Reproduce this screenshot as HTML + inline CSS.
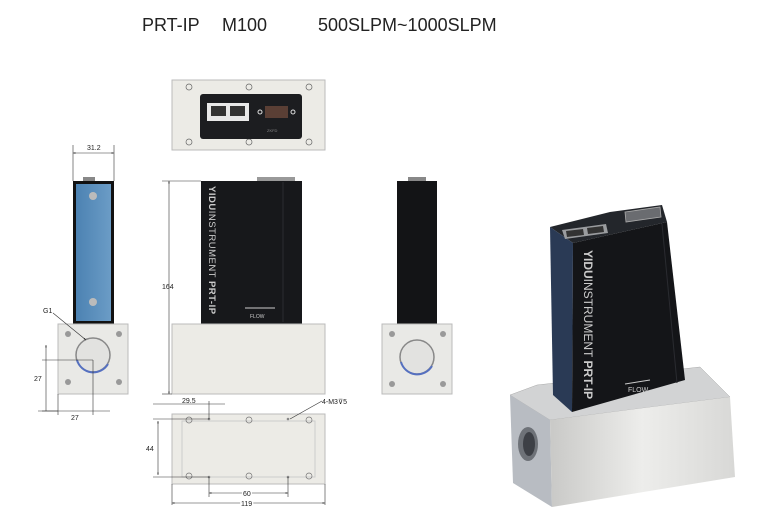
<!DOCTYPE html>
<html><head><meta charset="utf-8"><style>
html,body{margin:0;padding:0;background:#fff;}
svg{display:block;font-family:"Liberation Sans",sans-serif;}
</style></head><body>
<svg width="768" height="526" viewBox="0 0 768 526" xmlns="http://www.w3.org/2000/svg">
<defs>
<linearGradient id="base" x1="0" x2="1"><stop offset="0" stop-color="#c9c9c7"/><stop offset="0.5" stop-color="#ededeb"/><stop offset="1" stop-color="#d8d8d6"/></linearGradient>
<linearGradient id="blue" x1="0" x2="1"><stop offset="0" stop-color="#4c82b2"/><stop offset="1" stop-color="#6b9cc6"/></linearGradient>
<marker id="a" viewBox="0 0 10 10" refX="10" refY="5" markerWidth="6" markerHeight="4" orient="auto-start-reverse"><path d="M0,2L10,5L0,8z" fill="#222"/></marker>
</defs>
<text x="142" y="31" font-size="18" fill="#222">PRT-IP</text>
<text x="222" y="31" font-size="18" fill="#222">M100</text>
<text x="318" y="31" font-size="18" fill="#222">500SLPM~1000SLPM</text>

<!-- top view -->
<rect x="172" y="80" width="153" height="70" fill="#ecebe6" stroke="#bbb"/>
<g fill="none" stroke="#666" stroke-width="0.7">
<circle cx="189" cy="87" r="3"/><circle cx="249" cy="87" r="3"/><circle cx="309" cy="87" r="3"/>
<circle cx="189" cy="142" r="3"/><circle cx="249" cy="142" r="3"/><circle cx="309" cy="142" r="3"/></g>
<rect x="200" y="94" width="102" height="45" rx="3" fill="#1c1d20"/>
<rect x="207" y="103" width="42" height="18" fill="#e8e8e8"/>
<rect x="211" y="106" width="15" height="10" fill="#333"/><rect x="230" y="106" width="15" height="10" fill="#333"/>
<rect x="265" y="106" width="23" height="12" fill="#5a3f35"/>
<circle cx="260" cy="112" r="2" fill="none" stroke="#ddd"/><circle cx="293" cy="112" r="2" fill="none" stroke="#ddd"/>
<text x="267" y="132" font-size="4" fill="#888">ZKFD</text>

<!-- left side view -->
<line x1="73" y1="145" x2="73" y2="181" stroke="#333" stroke-width="0.6"/>
<line x1="114" y1="145" x2="114" y2="181" stroke="#333" stroke-width="0.6"/>
<line x1="73" y1="153" x2="114" y2="153" stroke="#333" stroke-width="0.6" marker-start="url(#a)" marker-end="url(#a)"/>
<text x="87" y="150" font-size="7" fill="#222">31.2</text>
<rect x="83" y="177" width="12" height="5" fill="#888"/>
<rect x="73" y="181" width="41" height="143" fill="#111"/>
<rect x="76" y="184" width="35" height="137" fill="url(#blue)"/>
<circle cx="93" cy="196" r="4" fill="#bbb"/><circle cx="93" cy="302" r="4" fill="#bbb"/>
<rect x="58" y="324" width="70" height="70" fill="#e9e9e6" stroke="#bbb"/>
<circle cx="93" cy="355" r="17" fill="#e2e2e0" stroke="#888" stroke-width="1.5"/>
<path d="M77,360 A17,17 0 0 0 108,364" fill="none" stroke="#5570c0" stroke-width="2"/>
<g fill="#999"><circle cx="68" cy="334" r="3"/><circle cx="119" cy="334" r="3"/><circle cx="68" cy="382" r="3"/><circle cx="119" cy="382" r="3"/></g>
<text x="43" y="313" font-size="7" fill="#222">G1</text>
<line x1="53" y1="313" x2="86" y2="340" stroke="#333" stroke-width="0.6" marker-end="url(#a)"/>
<g stroke="#333" stroke-width="0.6" fill="none">
<line x1="42" y1="360" x2="93" y2="360"/><line x1="42" y1="411" x2="58" y2="411"/>
<line x1="46" y1="345" x2="46" y2="411" marker-start="url(#a)"/>
<line x1="58" y1="394" x2="58" y2="415"/><line x1="93" y1="360" x2="93" y2="415"/>
<line x1="38" y1="411" x2="110" y2="411"/></g>
<text x="34" y="381" font-size="7" fill="#222">27</text>
<text x="71" y="420" font-size="7" fill="#222">27</text>

<!-- center front view -->
<rect x="257" y="177" width="38" height="5" fill="#999"/>
<rect x="201" y="181" width="101" height="143" fill="#17181b"/>
<line x1="283" y1="182" x2="283" y2="322" stroke="#2b2c30"/>
<text transform="translate(209,186) rotate(90)" font-size="9.5" fill="#ccc" letter-spacing="0.5"><tspan font-weight="bold">YIDU</tspan>INSTRUMENT <tspan font-weight="bold">PRT-IP</tspan></text>
<line x1="245" y1="308" x2="275" y2="308" stroke="#ccc"/>
<text x="250" y="318" font-size="5" fill="#ccc">FLOW</text>
<rect x="172" y="324" width="153" height="70" fill="#ecebe6" stroke="#bbb"/>
<line x1="162" y1="181" x2="201" y2="181" stroke="#333" stroke-width="0.6"/>
<line x1="162" y1="394" x2="172" y2="394" stroke="#333" stroke-width="0.6"/>
<line x1="169" y1="181" x2="169" y2="394" stroke="#333" stroke-width="0.6" marker-start="url(#a)" marker-end="url(#a)"/>
<text x="162" y="289" font-size="7" fill="#222">164</text>

<!-- right side view -->
<rect x="408" y="177" width="18" height="5" fill="#888"/>
<rect x="397" y="181" width="40" height="143" fill="#131416"/>
<rect x="382" y="324" width="70" height="70" fill="#e9e9e6" stroke="#bbb"/>
<circle cx="417" cy="357" r="17" fill="#e2e2e0" stroke="#888" stroke-width="1.5"/>
<path d="M401,362 A17,17 0 0 0 432,366" fill="none" stroke="#5570c0" stroke-width="2"/>
<g fill="#999"><circle cx="392" cy="334" r="3"/><circle cx="443" cy="334" r="3"/><circle cx="392" cy="384" r="3"/><circle cx="443" cy="384" r="3"/></g>

<!-- bottom view -->
<rect x="172" y="414" width="153" height="70" fill="#ecebe6" stroke="#bbb"/>
<rect x="182" y="421" width="133" height="56" fill="none" stroke="#ccc"/>
<g fill="none" stroke="#777" stroke-width="0.7">
<circle cx="189" cy="420" r="3"/><circle cx="249" cy="420" r="3"/><circle cx="309" cy="420" r="3"/>
<circle cx="189" cy="476" r="3"/><circle cx="249" cy="476" r="3"/><circle cx="309" cy="476" r="3"/></g>
<g fill="#888"><circle cx="209" cy="419" r="1.3"/><circle cx="288" cy="419" r="1.3"/><circle cx="209" cy="477" r="1.3"/><circle cx="288" cy="477" r="1.3"/></g>
<g stroke="#333" stroke-width="0.6" fill="none">
<line x1="153" y1="404" x2="225" y2="404"/><line x1="209" y1="401" x2="209" y2="419"/>
<line x1="153" y1="419" x2="209" y2="419"/><line x1="153" y1="477" x2="209" y2="477"/>
<line x1="158" y1="421" x2="158" y2="475" marker-start="url(#a)" marker-end="url(#a)"/>
<line x1="209" y1="477" x2="209" y2="497"/><line x1="288" y1="477" x2="288" y2="497"/>
<line x1="209" y1="493" x2="288" y2="493" marker-start="url(#a)" marker-end="url(#a)"/>
<line x1="172" y1="484" x2="172" y2="505"/><line x1="325" y1="484" x2="325" y2="505"/>
<line x1="172" y1="503" x2="325" y2="503" marker-start="url(#a)" marker-end="url(#a)"/>
<line x1="290" y1="419" x2="322" y2="401"/></g>
<text x="182" y="403" font-size="7" fill="#222">29.5</text>
<text x="146" y="451" font-size="7" fill="#222">44</text>
<text x="243" y="496" font-size="7" fill="#222" style="paint-order:stroke" stroke="#fff" stroke-width="3">60</text>
<text x="241" y="506" font-size="7" fill="#222" style="paint-order:stroke" stroke="#fff" stroke-width="3">119</text>
<text x="322" y="404" font-size="7" fill="#222">4-M3⊽5</text>

<!-- 3D view -->
<polygon points="510,395 537,385 700,367 730,397 550,420" fill="#d2d3d4" stroke="#aaa" stroke-width="0.5"/>
<polygon points="510,395 550,420 552,507 513,483" fill="#b8bcc2"/>
<polygon points="550,420 730,397 735,477 552,507" fill="url(#base)"/>
<ellipse cx="528" cy="444" rx="10" ry="17" fill="#6e7278"/>
<ellipse cx="529" cy="444" rx="6" ry="12" fill="#3d4046"/>
<polygon points="550,227 610,212 662,205 667,222 573,243" fill="#23262b"/>
<polygon points="550,227 573,243 572,412 553,395" fill="#2a3a55"/>
<polygon points="573,243 667,222 685,380 572,412" fill="#141518"/>
<line x1="662" y1="224" x2="677" y2="383" stroke="#2a2b30"/>
<polygon points="562,230 606,224 608,233 565,239" fill="#9a9c9f"/>
<polygon points="566,231 583,229 584,235 567,237" fill="#333"/>
<polygon points="587,228 603,226 604,232 588,234" fill="#333"/>
<polygon points="625,212 660,207 661,217 626,222" fill="#6a6c70" stroke="#aaa" stroke-width="0.8"/>
<text transform="translate(584,250) rotate(90)" font-size="12" fill="#ccc"><tspan font-weight="bold">YIDU</tspan>INSTRUMENT <tspan font-weight="bold">PRT-IP</tspan></text>
<line x1="625" y1="384" x2="650" y2="380" stroke="#ccc"/>
<text x="628" y="392" font-size="7" fill="#ccc">FLOW</text>
</svg>
</body></html>
